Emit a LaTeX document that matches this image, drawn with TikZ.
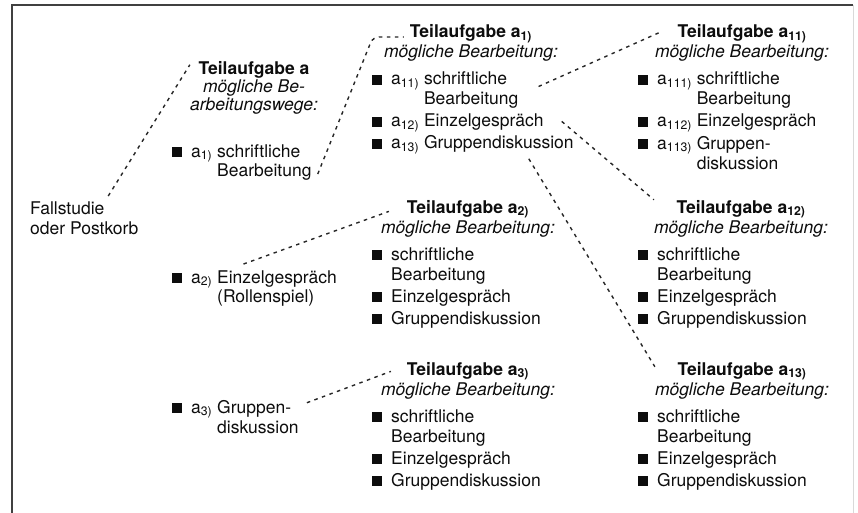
\documentclass[tikz,border=0pt]{standalone}
\usepackage{fontspec}
\setmainfont{TeX Gyre Heros}
\newcommand{\sqm}{\rule[-0.3pt]{9.5pt}{10pt}\hspace{9.5pt}}
\newcommand{\subx}[1]{\textsubscript{#1}}
\tikzset{
  txt/.style={inner sep=0pt, anchor=base west, align=left,
    font=\fontsize{17.5}{20}\selectfont, text=black!95},
  head/.style={inner sep=0pt, anchor=base, align=center,
    font=\fontsize{17.5}{20}\selectfont, text=black!95},
  conn/.style={line width=1.4pt, dash pattern=on 3.5pt off 4.5pt, draw=black!85},
  frame/.style={line width=2pt, draw=black!75},
}
\begin{document}
\begin{tikzpicture}[x=1pt,y=-1pt]
\useasboundingbox (0,0) rectangle (858,513);
\fill[white] (0,0) rectangle (858,513);
% frame
\draw[frame] (12,513) -- (12,5) -- (853,5);
\draw[line width=0.8pt, draw=black!15] (853,5) -- (853,513);

% column 1 (base anchor = baseline of the last line)
\node[txt] (fall) at (30,234) {Fallstudie\\oder Postkorb};

% column 2
\node[head, font=\fontsize{17.5}{18}\selectfont] (ta) at (254,111) {\textbf{Teilaufgabe a}\\\textit{mögliche Be-}\\\textit{arbeitungswege:}};
\node[txt, font=\fontsize{17.5}{19}\selectfont] (a1) at (172,176) {\sqm a\subx{1)}\ schriftliche\\\hphantom{\sqm a\subx{1)}\ }Bearbeitung};
\node[txt, font=\fontsize{17.5}{19}\selectfont] (a2) at (172,302) {\sqm a\subx{2)}\ Einzelgespräch\\\hphantom{\sqm a\subx{2)}\ }(Rollenspiel)};
\node[txt] (a3) at (172,433) {\sqm a\subx{3)}\ Gruppen-\\\hphantom{\sqm a\subx{3)}\ }diskussion};

% column 3 top
\node[head] (ta1) at (471,58) {\textbf{Teilaufgabe a\subx{1)}}\\\textit{mögliche Bearbeitung:}};
\node[txt] (a11) at (372,105) {\sqm a\subx{11)}\ schriftliche\\\hphantom{\sqm a\subx{11)}\ }Bearbeitung};
\node[txt] (a12) at (372,127) {\sqm a\subx{12)}\ Einzelgespräch};
\node[txt] (a13) at (372,149) {\sqm a\subx{13)}\ Gruppendiskussion};

% column 3 middle
\node[head] (ta2) at (468,233) {\textbf{Teilaufgabe a\subx{2)}}\\\textit{mögliche Bearbeitung:}};
\node[txt] (b1) at (372,280) {\sqm schriftliche\\\hphantom{\sqm}Bearbeitung};
\node[txt] (b2) at (372,302) {\sqm Einzelgespräch};
\node[txt] (b3) at (372,324) {\sqm Gruppendiskussion};

% column 3 bottom
\node[head] (ta3) at (468,395) {\textbf{Teilaufgabe a\subx{3)}}\\\textit{mögliche Bearbeitung:}};
\node[txt] (c1) at (372,442) {\sqm schriftliche\\\hphantom{\sqm}Bearbeitung};
\node[txt] (c2) at (372,464) {\sqm Einzelgespräch};
\node[txt] (c3) at (372,486) {\sqm Gruppendiskussion};

% column 4 top
\node[head] (ta11) at (742,58) {\textbf{Teilaufgabe a\subx{11)}}\\\textit{mögliche Bearbeitung:}};
\node[txt] (a111) at (638,105) {\sqm a\subx{111)}\ schriftliche\\\hphantom{\sqm a\subx{111)}\ }Bearbeitung};
\node[txt] (a112) at (638,127) {\sqm a\subx{112)}\ Einzelgespräch};
\node[txt] (a113) at (638,169) {\sqm a\subx{113)}\ Gruppen-\\\hphantom{\sqm a\subx{113)}\ }diskussion};

% column 4 middle
\node[head] (ta12) at (741,233) {\textbf{Teilaufgabe a\subx{12)}}\\\textit{mögliche Bearbeitung:}};
\node[txt] (d1) at (638,280) {\sqm schriftliche\\\hphantom{\sqm}Bearbeitung};
\node[txt] (d2) at (638,302) {\sqm Einzelgespräch};
\node[txt] (d3) at (638,324) {\sqm Gruppendiskussion};

% column 4 bottom
\node[head] (ta13) at (742,395) {\textbf{Teilaufgabe a\subx{13)}}\\\textit{mögliche Bearbeitung:}};
\node[txt] (e1) at (638,442) {\sqm schriftliche\\\hphantom{\sqm}Bearbeitung};
\node[txt] (e2) at (638,464) {\sqm Einzelgespräch};
\node[txt] (e3) at (638,486) {\sqm Gruppendiskussion};

% connectors
\draw[conn] ([xshift=24pt,yshift=5pt]fall.north) -- ([yshift=-3pt]ta.north west);
\draw[conn, rounded corners=6pt] ([xshift=6pt,yshift=6pt]a1.south east) -- ([xshift=-11pt,yshift=21pt]ta1.base west) -- ([xshift=20pt,yshift=21pt]ta1.base west);
\draw[conn] ([xshift=20pt,yshift=4pt]a11.east) -- ([xshift=4pt,yshift=-8pt]ta11.north west);
\draw[conn] ([xshift=18pt,yshift=2pt]a12.east) -- (ta12.north west);
\draw[conn] ([xshift=-45pt,yshift=-4pt]a13.south east) -- ([yshift=-5pt]ta13.north west);
\draw[conn] ([xshift=-11pt,yshift=6pt]a2.north) -- ([xshift=8pt,yshift=7pt]ta2.west);
\draw[conn] ([xshift=8pt,yshift=-3pt]a3.north east) -- ([xshift=10pt,yshift=9pt]ta3.west);
\end{tikzpicture}
\end{document}
